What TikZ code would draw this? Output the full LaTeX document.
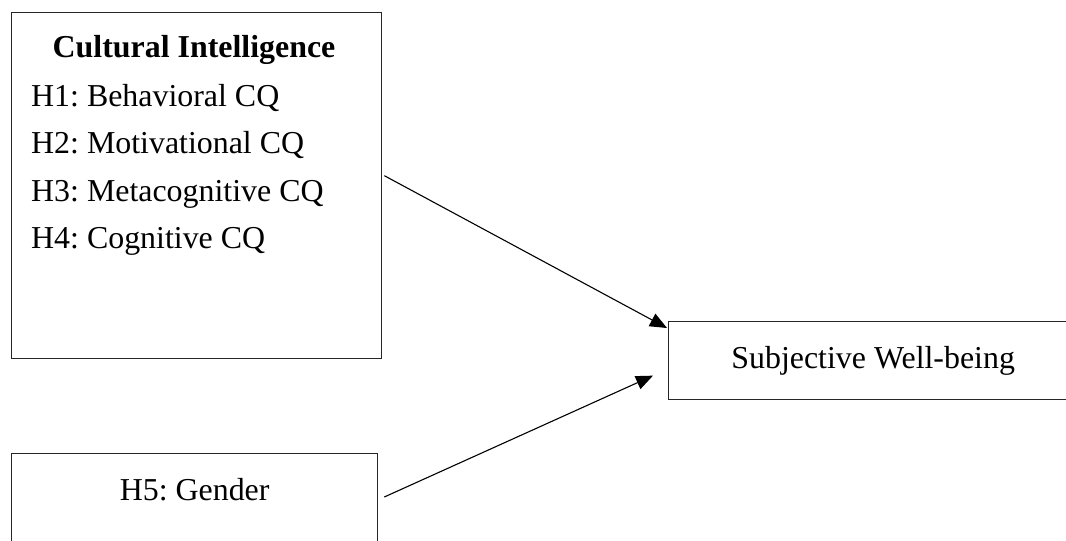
\documentclass[tikz,border=0pt]{standalone}
\usepackage{fontspec}
\setmainfont{Liberation Serif}
\usetikzlibrary{arrows.meta, positioning, calc}

\begin{document}
\frenchspacing
\begin{tikzpicture}[x=1pt, y=-1pt, font=\fontsize{31.9}{47.5}\selectfont]
		\tikzstyle{block} = [rectangle, draw=black!85, line width=1.3pt, inner sep=0pt]
		
		\tikzstyle{txt} = [anchor=base west, inner sep=0pt]
		
		\tikzstyle{arrow} = [-{Triangle[length=17pt, width=14pt]}, line width=1.1pt]
		
		\clip (0,0) rectangle (1066,541);
		
		% Boxes
		\node (ci) [block, minimum width=370, minimum height=346, anchor=north west] at (11,12) {};
		\node (swb) [block, minimum width=409, minimum height=78, anchor=north west] at (668,321) {Subjective Well-being};
		\node (gen) [block, minimum width=366, minimum height=130, anchor=north west] at (11,453) {};
		
		% Texts of the boxes
		\node (title) [anchor=base, inner sep=0pt] at ($(ci.north west)+(183,45)$) {\textbf{Cultural Intelligence}};
		\node (h1) [txt] at ($(ci.north west)+(20,94)$) {H1: Behavioral CQ};
		\node (h2) [txt] at ($(ci.north west)+(20,141)$) {H2: Motivational CQ};
		\node (h3) [txt] at ($(ci.north west)+(20,189)$) {H3: Metacognitive CQ};
		\node (h4) [txt] at ($(ci.north west)+(20,236)$) {H4: Cognitive CQ};
		\node (h5) [anchor=base, inner sep=0pt] at ($(gen.north)+(0,47)$) {H5: Gender};
		
		% Arrows
		\draw [arrow] ($(ci.east)+(2,-10)$) -- ($(swb.north west)+(-1,7)$);
		\draw [arrow] ($(gen.north east)+(6,44)$) -- ($(swb.west)+(-15,15)$);
	\end{tikzpicture}
\end{document}
